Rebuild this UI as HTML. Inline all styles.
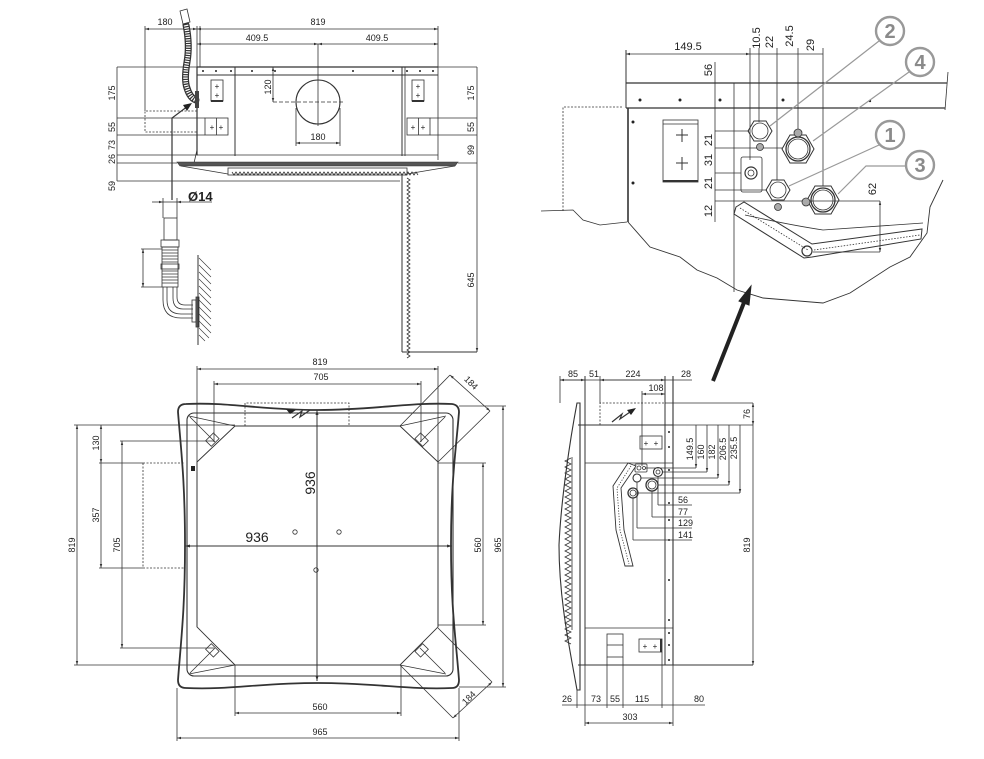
<!DOCTYPE html>
<html><head><meta charset="utf-8"><style>
html,body{margin:0;padding:0;background:#fff;}
svg{display:block;}
text{font-family:"Liberation Sans",sans-serif;fill:#222;}
.s{font-size:9px;}
.m{font-size:11px;}
</style></head><body>
<svg width="984" height="759" viewBox="0 0 984 759" xmlns="http://www.w3.org/2000/svg">
<defs>
<marker id="a" viewBox="0 0 10 10" refX="10" refY="5" markerWidth="5" markerHeight="5" orient="auto-start-reverse"><path d="M0,2 L10,5 L0,8z" fill="#333"/></marker>
</defs>
<g stroke="#333" stroke-width="0.8" fill="none">

<!-- ============ TOP-LEFT FRONT VIEW ============ -->
<line x1="145" y1="29" x2="197" y2="29" marker-start="url(#a)" marker-end="url(#a)"/>
<line x1="197" y1="29" x2="438" y2="29" marker-start="url(#a)" marker-end="url(#a)"/>
<line x1="197" y1="44" x2="318" y2="44" marker-start="url(#a)" marker-end="url(#a)"/>
<line x1="318" y1="44" x2="438" y2="44" marker-start="url(#a)" marker-end="url(#a)"/>
<line x1="145" y1="26" x2="145" y2="111"/>
<line x1="197" y1="26" x2="197" y2="150"/>
<line x1="200" y1="26" x2="200" y2="67"/>
<line x1="438" y1="26" x2="438" y2="67"/>
<line x1="318" y1="44" x2="318" y2="126"/>
<line x1="117" y1="67" x2="477" y2="67"/>
<line x1="117" y1="118" x2="205" y2="118"/>
<line x1="430" y1="118" x2="477" y2="118"/>
<line x1="117" y1="135" x2="205" y2="135"/>
<line x1="430" y1="135" x2="477" y2="135"/>
<line x1="117" y1="155" x2="198" y2="155"/>
<line x1="117" y1="163" x2="177" y2="163"/>
<line x1="458" y1="163" x2="477" y2="163"/>
<line x1="117" y1="181" x2="400" y2="181"/>
<line x1="117" y1="67" x2="117" y2="181"/>
<line x1="477" y1="67" x2="477" y2="352" marker-end="url(#a)"/>
<line x1="197" y1="67" x2="438" y2="67" stroke-width="1.2"/>
<line x1="197" y1="75" x2="438" y2="75" stroke-width="1"/>
<line x1="197" y1="67" x2="197" y2="155" stroke-width="1.2"/>
<line x1="438" y1="67" x2="438" y2="160"/>
<line x1="235" y1="67" x2="235" y2="156" stroke-width="1"/>
<line x1="402" y1="67" x2="402" y2="156" stroke-width="1"/>
<line x1="405" y1="67" x2="405" y2="156"/>
<line x1="197" y1="155" x2="438" y2="155"/>
<line x1="194" y1="163" x2="197" y2="150"/>
<g fill="#222" stroke="none">
<circle cx="203" cy="71" r="1"/><circle cx="216" cy="71" r="1"/><circle cx="231" cy="71" r="1"/><circle cx="252" cy="71" r="1"/><circle cx="275" cy="71" r="1"/><circle cx="353" cy="71" r="1"/><circle cx="393" cy="71" r="1"/><circle cx="407" cy="71" r="1"/><circle cx="420" cy="71" r="1"/><circle cx="433" cy="71" r="1"/>
</g>
<path d="M177,162 L458,162 L455,166 L180,166 Z" fill="#555" stroke-width="0.6"/>
<path d="M181,166 Q205,170 228,174"/>
<path d="M407,174 Q430,170 455,166"/>
<rect x="228" y="168" width="179" height="7"/>
<path d="M232,172 l2,3 l2,-3 l2,3 l2,-3 l2,3 l2,-3 l2,3 l2,-3 l2,3 l2,-3 l2,3 l2,-3 l2,3 l2,-3 l2,3 l2,-3 l2,3 l2,-3 l2,3 l2,-3 l2,3 l2,-3 l2,3 l2,-3 l2,3 l2,-3 l2,3 l2,-3 l2,3 l2,-3 l2,3 l2,-3 l2,3 l2,-3 l2,3 l2,-3 l2,3 l2,-3 l2,3 l2,-3 l2,3 l2,-3 l2,3 l2,-3 l2,3 l2,-3 l2,3 l2,-3 l2,3 l2,-3 l2,3 l2,-3 l2,3 l2,-3 l2,3 l2,-3 l2,3 l2,-3 l2,3 l2,-3 l2,3 l2,-3 l2,3 l2,-3 l2,3 l2,-3 l2,3 l2,-3 l2,3 l2,-3 l2,3 l2,-3 l2,3 l2,-3 l2,3 l2,-3 l2,3 l2,-3 l2,3 l2,-3 l2,3 l2,-3 l2,3 l2,-3 l2,3 l2,-3 l2,3 l2,-3 l2,3 l2,-3 l2,3 l2,-3 l2,3"/>
<line x1="402" y1="175" x2="402" y2="352" stroke-width="1"/>
<path d="M407,178 l3,2 l-3,2 l3,2 l-3,2 l3,2 l-3,2 l3,2 l-3,2 l3,2 l-3,2 l3,2 l-3,2 l3,2 l-3,2 l3,2 l-3,2 l3,2 l-3,2 l3,2 l-3,2 l3,2 l-3,2 l3,2 l-3,2 l3,2 l-3,2 l3,2 l-3,2 l3,2 l-3,2 l3,2 l-3,2 l3,2 l-3,2 l3,2 l-3,2 l3,2 l-3,2 l3,2 l-3,2 l3,2 l-3,2 l3,2 l-3,2 l3,2 l-3,2 l3,2 l-3,2 l3,2 l-3,2 l3,2 l-3,2 l3,2 l-3,2 l3,2 l-3,2 l3,2 l-3,2 l3,2 l-3,2 l3,2 l-3,2 l3,2 l-3,2 l3,2 l-3,2 l3,2 l-3,2 l3,2 l-3,2 l3,2 l-3,2 l3,2 l-3,2 l3,2 l-3,2 l3,2 l-3,2 l3,2 l-3,2 l3,2 l-3,2 l3,2 l-3,2 l3,2 l-3,2 l3,2 l-3,2 l3,2 l-3,2"/>
<line x1="402" y1="352" x2="477" y2="352" stroke-width="1"/>
<circle cx="318" cy="102" r="22" stroke-width="1.1"/>
<line x1="273" y1="102" x2="345" y2="102" stroke-dasharray="4 2"/>
<line x1="273" y1="67" x2="273" y2="102" marker-start="url(#a)" marker-end="url(#a)"/>
<line x1="296" y1="108" x2="296" y2="146"/>
<line x1="340" y1="108" x2="340" y2="146"/>
<line x1="296" y1="143" x2="340" y2="143" marker-start="url(#a)" marker-end="url(#a)"/>
<rect x="211" y="80" width="12" height="21"/>
<line x1="211" y1="101" x2="223" y2="101" stroke-width="2"/>
<rect x="205" y="118" width="23" height="17"/>
<line x1="216.5" y1="118" x2="216.5" y2="135"/>
<rect x="412" y="80" width="12" height="21"/>
<line x1="412" y1="101" x2="424" y2="101" stroke-width="2"/>
<rect x="407" y="118" width="23" height="17"/>
<line x1="418.5" y1="118" x2="418.5" y2="135"/>
<path d="M197,111 L145,111 L145,132 L197,132" stroke-dasharray="2 1.5"/>
<path d="M186,25 Q190,45 187,62 Q184,80 187,88 Q190,98 196,100" stroke="#333" stroke-width="7" stroke-linecap="round"/>
<path d="M186,25 Q190,45 187,62 Q184,80 187,88 Q190,98 196,100" stroke="#fff" stroke-width="4.5" stroke-dasharray="1.2 1.2"/>
<path d="M180,11 L187,9 L190,22 L183,24 Z" fill="#fff"/>
<rect x="195" y="91" width="4" height="17" fill="#444" stroke="none"/>
<polyline points="172,200 172,118 188,106" stroke-width="1.2"/>
<path d="M192,103 L183,105 L187,111 Z" fill="#222" stroke="none"/>
<line x1="152" y1="202" x2="163" y2="202" marker-end="url(#a)"/>
<line x1="163" y1="202" x2="177" y2="202"/>
<line x1="212" y1="202" x2="177" y2="202" marker-end="url(#a)"/>
<line x1="163" y1="198" x2="163" y2="218"/>
<line x1="177" y1="198" x2="177" y2="218"/>
<rect x="164" y="218" width="13" height="22"/>
<rect x="161" y="240" width="18" height="7"/>
<rect x="162" y="247" width="16" height="40"/>
<path d="M162,250 h16 M162,253 h16 M162,256 h16 M162,259 h16 M162,262 h16 M162,271 h16 M162,274 h16 M162,277 h16 M162,280 h16 M162,283 h16"/>
<rect x="161" y="264" width="18" height="5"/>
<path d="M163,287 L163,300 Q163,318 181,318 L193,318"/>
<path d="M177,287 L177,297 Q177,305 185,305 L193,305"/>
<path d="M167,287 L167,300 Q167,314 181,314 L193,314"/>
<path d="M173,287 L173,298 Q173,309 183,309 L193,309"/>
<rect x="192" y="300" width="4" height="22"/>
<rect x="196" y="297" width="3" height="30" fill="#666"/>
<line x1="198" y1="255" x2="198" y2="345" stroke-width="1"/>
<path d="M199,258 l12,12 M199,265 l12,12 M199,272 l12,12 M199,279 l12,12 M199,286 l12,12 M199,293 l12,12 M199,300 l12,12 M199,307 l12,12 M199,314 l12,12 M199,321 l12,12 M199,328 l10,10 M199,335 l6,6" stroke-width="0.6"/>
<line x1="143" y1="249" x2="143" y2="287" marker-start="url(#a)" marker-end="url(#a)"/>
<line x1="141" y1="249" x2="162" y2="249"/>
<line x1="141" y1="287" x2="162" y2="287"/>

<!-- ============ TOP-RIGHT DETAIL ============ -->
<line x1="626" y1="54" x2="750" y2="54" marker-start="url(#a)" marker-end="url(#a)"/>
<line x1="750" y1="54" x2="823" y2="54"/>
<line x1="626" y1="50" x2="626" y2="108" stroke-width="1"/>
<line x1="750" y1="48" x2="750" y2="160"/>
<line x1="759" y1="48" x2="759" y2="122"/>
<line x1="777" y1="48" x2="777" y2="180"/>
<line x1="798" y1="48" x2="798" y2="130"/>
<line x1="823" y1="48" x2="823" y2="186"/>
<line x1="626" y1="83" x2="947" y2="83" stroke-width="1.2"/>
<line x1="626" y1="108" x2="945" y2="108" stroke-width="1.2"/>
<line x1="948" y1="72" x2="945" y2="110"/>
<line x1="628" y1="108" x2="628" y2="222" stroke-width="1.6"/>
<line x1="715" y1="62" x2="715" y2="222"/>
<line x1="734" y1="83" x2="734" y2="292"/>
<line x1="715" y1="131" x2="749" y2="131"/>
<line x1="715" y1="148" x2="783" y2="148"/>
<line x1="715" y1="173" x2="741" y2="173"/>
<line x1="715" y1="190" x2="767" y2="190"/>
<line x1="715" y1="201" x2="880" y2="201"/>
<g fill="#222" stroke="none">
<circle cx="640" cy="100" r="1.5"/><circle cx="680" cy="100" r="1.5"/><circle cx="720" cy="100" r="1.5"/><circle cx="783" cy="100" r="1.5"/><circle cx="870" cy="101" r="1.2"/>
<circle cx="633" cy="122" r="1.5"/><circle cx="633" cy="183" r="1.5"/>
</g>
<rect x="663" y="120" width="35" height="62"/>
<line x1="663" y1="124" x2="698" y2="124"/>
<line x1="663" y1="181" x2="698" y2="181" stroke-width="2"/>
<path d="M682,129 v13 M676,135 h12 M682,157 v13 M676,163 h12" stroke-width="1"/>
<rect x="741" y="157" width="21" height="35" rx="2"/>
<circle cx="751" cy="173" r="6" stroke-width="1.2"/>
<circle cx="751" cy="173" r="3"/>
<polygon points="748,131 754,121 766,121 772,131 766,141 754,141" stroke-width="1"/>
<circle cx="760" cy="131" r="8"/>
<circle cx="760" cy="147" r="3.5" fill="#aaa"/>
<polygon points="782,149 790,135 806,135 814,149 806,163 790,163" stroke-width="1"/>
<circle cx="798" cy="149" r="12" stroke-width="1.3"/>
<circle cx="798" cy="149" r="10"/>
<circle cx="798" cy="133" r="4" fill="#aaa"/>
<polygon points="766,190 772,180 784,180 790,190 784,200 772,200" stroke-width="1"/>
<circle cx="778" cy="190" r="8"/>
<circle cx="778" cy="207" r="3.5" fill="#aaa"/>
<polygon points="807,200 815,186 831,186 839,200 831,214 815,214" stroke-width="1"/>
<circle cx="823" cy="200" r="12" stroke-width="1.3"/>
<circle cx="823" cy="200" r="10"/>
<circle cx="806" cy="202" r="4" fill="#aaa"/>
<polygon points="736,207 744,202 812,244 922,229 921,239 812,257 804,258 734,214" fill="#fff" stroke-width="1"/>
<path d="M740,208 L808,250 M814,250 L920,235" stroke-dasharray="1.5 1.5"/>
<circle cx="807" cy="251" r="5" stroke-width="1.2"/>
<path d="M745,215 Q790,225 823,230 L923,223"/>
<line x1="880" y1="201" x2="880" y2="252" marker-start="url(#a)" marker-end="url(#a)"/>
<line x1="813" y1="252" x2="880" y2="252"/>
<polyline points="541,211 573,210 583,220 600,225 627,222"/>
<polyline points="628,222 650,247 680,257 697,270 717,278 737,290 763,298 823,303 850,293 890,267 910,257 927,233 930,207 943,180" stroke-width="0.9"/>
<path d="M622,107 L563,107 L563,212" stroke-dasharray="2 1.5"/>
<g stroke="#999" stroke-width="1.2">
<line x1="879" y1="41" x2="770" y2="126"/>
<line x1="909" y1="72" x2="813" y2="141"/>
<line x1="879" y1="145" x2="789" y2="186"/>
<polyline points="906,166 866,166 838,194"/>
</g>
<g stroke="#999" stroke-width="2.4" fill="#fff">
<circle cx="890" cy="31" r="14"/>
<circle cx="920" cy="62" r="14"/>
<circle cx="890" cy="135" r="14"/>
<circle cx="920" cy="165" r="14"/>
</g>
<line x1="713" y1="381" x2="745" y2="300" stroke="#222" stroke-width="4"/>
<polygon points="751,286 749,305 739,301" fill="#222" stroke="#222" stroke-width="1"/>

<!-- ============ BOTTOM-LEFT PLAN ============ -->
<line x1="197" y1="369" x2="438" y2="369" marker-start="url(#a)" marker-end="url(#a)"/>
<line x1="214" y1="384" x2="421" y2="384" marker-start="url(#a)" marker-end="url(#a)"/>
<line x1="197" y1="366" x2="197" y2="627"/>
<line x1="438" y1="366" x2="438" y2="627"/>
<line x1="214" y1="381" x2="214" y2="442"/>
<line x1="421" y1="381" x2="421" y2="442"/>
<path d="M186,404 C230,402 260,410 318,410 C375,410 410,402 452,404 Q459,405 459,412 C456,450 451,480 451,545 C451,610 456,640 459,680 Q459,688 452,688 C410,690 375,683 318,683 C260,683 230,690 186,688 Q178,688 178,680 C181,640 185,610 185,545 C185,480 181,450 178,412 Q178,404 186,404 Z" stroke-width="1.8"/>
<rect x="187" y="413" width="266" height="263" rx="7" stroke-width="1.1"/>
<polygon points="197,462 235,426 400,426 438,462 438,627 400,665 235,665 197,627" stroke-width="0.9"/>
<polyline points="189,416 235,426"/><polyline points="446,416 400,426"/>
<polyline points="189,674 235,665"/><polyline points="446,674 400,665"/>
<line x1="190" y1="417" x2="215" y2="442"/>
<line x1="445" y1="417" x2="420" y2="442"/>
<line x1="190" y1="673" x2="215" y2="648"/>
<line x1="445" y1="673" x2="420" y2="648"/>
<rect x="207" y="436" width="11" height="8" transform="rotate(-45 212 440)"/>
<rect x="416" y="436" width="11" height="8" transform="rotate(45 422 440)"/>
<rect x="207" y="646" width="11" height="8" transform="rotate(45 212 650)"/>
<rect x="416" y="646" width="11" height="8" transform="rotate(-45 422 650)"/>
<rect x="191" y="466" width="4" height="5" fill="#222" stroke="none"/>
<path d="M245,426 L245,403 L349,403 L349,426" stroke-dasharray="2 1.5"/>
<polyline points="292,418 302,411 300,417 310,410" stroke-width="1.2"/>
<path d="M286,409 L296,410 L290,414 Z" fill="#222" stroke="none"/>
<line x1="317" y1="410" x2="317" y2="681" marker-start="url(#a)" marker-end="url(#a)" stroke-width="1"/>
<line x1="185" y1="546" x2="452" y2="546" marker-start="url(#a)" marker-end="url(#a)" stroke-width="1"/>
<circle cx="295" cy="532" r="2.2"/><circle cx="339" cy="532" r="2.2"/><circle cx="316" cy="570" r="2.2"/>
<line x1="77" y1="425" x2="77" y2="665" marker-start="url(#a)" marker-end="url(#a)"/>
<line x1="74" y1="425" x2="235" y2="425"/>
<line x1="74" y1="665" x2="235" y2="665"/>
<line x1="101" y1="425" x2="101" y2="463" marker-start="url(#a)" marker-end="url(#a)"/>
<line x1="101" y1="463" x2="101" y2="568" marker-end="url(#a)"/>
<line x1="99" y1="463" x2="143" y2="463"/>
<line x1="99" y1="568" x2="143" y2="568"/>
<path d="M143,463 L185,463 M143,463 L143,568 L185,568" stroke-dasharray="2 1.5"/>
<line x1="122" y1="441" x2="122" y2="648" marker-start="url(#a)" marker-end="url(#a)"/>
<line x1="120" y1="441" x2="214" y2="441"/>
<line x1="120" y1="648" x2="214" y2="648"/>
<line x1="483" y1="463" x2="483" y2="625" marker-start="url(#a)" marker-end="url(#a)"/>
<line x1="438" y1="463" x2="486" y2="463"/>
<line x1="438" y1="625" x2="486" y2="625"/>
<line x1="503" y1="406" x2="503" y2="687" marker-start="url(#a)" marker-end="url(#a)"/>
<line x1="459" y1="406" x2="506" y2="406"/>
<line x1="459" y1="687" x2="506" y2="687"/>
<line x1="235" y1="713" x2="401" y2="713" marker-start="url(#a)" marker-end="url(#a)"/>
<line x1="235" y1="665" x2="235" y2="716"/>
<line x1="401" y1="665" x2="401" y2="716"/>
<line x1="177" y1="738" x2="459" y2="738" marker-start="url(#a)" marker-end="url(#a)"/>
<line x1="177" y1="688" x2="177" y2="741"/>
<line x1="459" y1="688" x2="459" y2="741"/>
<line x1="400" y1="426" x2="450" y2="375"/>
<line x1="438" y1="462" x2="490" y2="411"/>
<line x1="450" y1="375" x2="490" y2="411" marker-start="url(#a)" marker-end="url(#a)"/>
<line x1="400" y1="665" x2="453" y2="718"/>
<line x1="438" y1="628" x2="492" y2="682"/>
<line x1="453" y1="718" x2="492" y2="682" marker-start="url(#a)" marker-end="url(#a)"/>

<!-- ============ BOTTOM-RIGHT SIDE VIEW ============ -->
<line x1="560" y1="380" x2="692" y2="380"/>
<line x1="560" y1="380" x2="585" y2="380" marker-start="url(#a)" marker-end="url(#a)"/>
<line x1="600" y1="380" x2="665" y2="380" marker-start="url(#a)" marker-end="url(#a)"/>
<line x1="560" y1="376" x2="560" y2="403"/>
<line x1="585" y1="376" x2="585" y2="665" stroke-width="1"/>
<line x1="600" y1="376" x2="600" y2="403"/>
<line x1="665" y1="376" x2="665" y2="665" stroke-width="1"/>
<line x1="673" y1="376" x2="673" y2="665" stroke-width="1.1"/>
<line x1="642" y1="394" x2="665" y2="394" marker-start="url(#a)" marker-end="url(#a)"/>
<line x1="642" y1="391" x2="642" y2="466"/>
<path d="M600,425 L600,403 L665,403 L665,425" stroke-dasharray="2 1.5"/>
<polyline points="612,422 622,414 620,419 630,412" stroke-width="1.2"/>
<path d="M636,408 L627,410 L631,415 Z" fill="#222" stroke="none"/>
<line x1="665" y1="403" x2="753" y2="403"/>
<line x1="673" y1="425" x2="753" y2="425"/>
<line x1="753" y1="403" x2="753" y2="425" marker-start="url(#a)" marker-end="url(#a)"/>
<line x1="753" y1="425" x2="753" y2="665" marker-end="url(#a)"/>
<line x1="578" y1="425" x2="673" y2="425" stroke-width="1.1"/>
<line x1="585" y1="463" x2="673" y2="463"/>
<line x1="585" y1="628" x2="673" y2="628"/>
<line x1="578" y1="665" x2="753" y2="665" stroke-width="1"/>
<g fill="#222" stroke="none">
<circle cx="669" cy="432" r="1"/><circle cx="669" cy="447" r="1"/><circle cx="669" cy="470" r="1"/><circle cx="669" cy="503" r="1"/><circle cx="669" cy="520" r="1"/><circle cx="669" cy="540" r="1"/><circle cx="669" cy="580" r="1"/><circle cx="669" cy="620" r="1"/><circle cx="669" cy="633" r="1"/><circle cx="669" cy="645" r="1"/><circle cx="669" cy="660" r="1"/>
</g>
<path d="M577,403 C570,440 561,500 559,545 C559,600 570,650 577,690 L580,690 L580,403 Z" stroke-width="1.1"/>
<line x1="580" y1="425" x2="580" y2="665"/>
<line x1="572" y1="457" x2="572" y2="630"/>
<path d="M571,458 l-6,3 l6,3 l-6,3 l6,3 l-6,3 l6,3 l-6,3 l6,3 l-6,3 l6,3 l-6,3 l6,3 l-6,3 l6,3 l-6,3 l6,3 l-6,3 l6,3 l-6,3 l6,3 l-6,3 l6,3 l-6,3 l6,3 l-6,3 l6,3 l-6,3 l6,3 l-6,3 l6,3 l-6,3 l6,3 l-6,3 l6,3 l-6,3 l6,3 l-6,3 l6,3 l-6,3 l6,3 l-6,3 l6,3 l-6,3 l6,3 l-6,3 l6,3 l-6,3 l6,3 l-6,3 l6,3 l-6,3 l6,3 l-6,3 l6,3 l-6,3 l6,3 l-6,3 l6,3 l-6,3 l6,3 l-6,3 l6,3"/>
<rect x="640" y="436" width="22" height="13"/>
<line x1="696" y1="425" x2="696" y2="468" marker-end="url(#a)"/>
<line x1="707" y1="425" x2="707" y2="472" marker-end="url(#a)"/>
<line x1="718" y1="425" x2="718" y2="478" marker-end="url(#a)"/>
<line x1="729" y1="425" x2="729" y2="485" marker-end="url(#a)"/>
<line x1="740" y1="425" x2="740" y2="493" marker-end="url(#a)"/>
<line x1="645" y1="468" x2="696" y2="468"/>
<line x1="662" y1="472" x2="707" y2="472"/>
<line x1="641" y1="478" x2="718" y2="478"/>
<line x1="658" y1="485" x2="729" y2="485"/>
<line x1="638" y1="493" x2="740" y2="493"/>
<rect x="635" y="464" width="12" height="8" rx="1"/>
<circle cx="639" cy="468" r="2"/><circle cx="644" cy="468" r="1.5"/>
<circle cx="658" cy="472" r="4.5" stroke-width="1.1"/><circle cx="658" cy="472" r="2"/>
<circle cx="637" cy="478" r="4" stroke-width="1.1"/>
<circle cx="652" cy="485" r="6" stroke-width="1.3"/><circle cx="652" cy="485" r="4"/>
<circle cx="633" cy="493" r="5" stroke-width="1.3"/><circle cx="633" cy="493" r="3"/>
<line x1="658" y1="476" x2="658" y2="505"/>
<line x1="652" y1="491" x2="652" y2="517"/>
<line x1="637" y1="482" x2="637" y2="528"/>
<line x1="633" y1="498" x2="633" y2="540"/>
<line x1="658" y1="505" x2="692" y2="505"/>
<line x1="652" y1="517" x2="692" y2="517"/>
<line x1="637" y1="528" x2="692" y2="528"/>
<line x1="633" y1="540" x2="692" y2="540"/>
<path d="M628,463 L613,486 L616,530 L625,566 L633,566 L624,530 L621,488 L636,466 Z" fill="#fff" stroke-width="0.9"/>
<path d="M631,466 L617,488 L620,530 L629,564" stroke-dasharray="1.2 1.5"/>
<rect x="607" y="634" width="16" height="23"/>
<line x1="607" y1="645" x2="623" y2="645"/>
<rect x="639" y="639" width="23" height="13"/>
<line x1="661" y1="639" x2="661" y2="652" stroke-width="2"/>
<line x1="562" y1="705" x2="705" y2="705"/>
<line x1="577" y1="690" x2="577" y2="708"/>
<line x1="585" y1="665" x2="585" y2="726"/>
<line x1="607" y1="657" x2="607" y2="708"/>
<line x1="623" y1="657" x2="623" y2="708"/>
<line x1="662" y1="652" x2="662" y2="708"/>
<line x1="673" y1="665" x2="673" y2="726"/>
<line x1="585" y1="723" x2="673" y2="723" marker-start="url(#a)" marker-end="url(#a)"/>
</g>

<!-- ============ TEXT ============ -->
<g class="s">
<text x="165" y="25" text-anchor="middle">180</text>
<text x="318" y="25" text-anchor="middle">819</text>
<text x="257" y="41" text-anchor="middle">409.5</text>
<text x="377" y="41" text-anchor="middle">409.5</text>
<text x="318" y="140" text-anchor="middle">180</text>
<text transform="translate(271,87) rotate(-90)" text-anchor="middle">120</text>
<text transform="translate(115,93) rotate(-90)" text-anchor="middle">175</text>
<text transform="translate(115,127) rotate(-90)" text-anchor="middle">55</text>
<text transform="translate(115,145) rotate(-90)" text-anchor="middle">73</text>
<text transform="translate(115,159) rotate(-90)" text-anchor="middle">26</text>
<text transform="translate(115,186) rotate(-90)" text-anchor="middle">59</text>
<text transform="translate(474,93) rotate(-90)" text-anchor="middle">175</text>
<text transform="translate(474,127) rotate(-90)" text-anchor="middle">55</text>
<text transform="translate(474,150) rotate(-90)" text-anchor="middle">99</text>
<text transform="translate(474,280) rotate(-90)" text-anchor="middle">645</text>
<text x="320" y="365" text-anchor="middle">819</text>
<text x="321" y="380" text-anchor="middle">705</text>
<text transform="translate(75,545) rotate(-90)" text-anchor="middle">819</text>
<text transform="translate(99,443) rotate(-90)" text-anchor="middle">130</text>
<text transform="translate(99,515) rotate(-90)" text-anchor="middle">357</text>
<text transform="translate(120,545) rotate(-90)" text-anchor="middle">705</text>
<text transform="translate(481,545) rotate(-90)" text-anchor="middle">560</text>
<text transform="translate(501,545) rotate(-90)" text-anchor="middle">965</text>
<text x="320" y="710" text-anchor="middle">560</text>
<text x="320" y="735" text-anchor="middle">965</text>
<text transform="translate(469,385) rotate(45)" text-anchor="middle">184</text>
<text transform="translate(471,700) rotate(-45)" text-anchor="middle">184</text>
<text x="573" y="377" text-anchor="middle">85</text>
<text x="594" y="377" text-anchor="middle">51</text>
<text x="633" y="377" text-anchor="middle">224</text>
<text x="686" y="377" text-anchor="middle">28</text>
<text x="656" y="391" text-anchor="middle">108</text>
<text transform="translate(750,414) rotate(-90)" text-anchor="middle">76</text>
<text transform="translate(750,545) rotate(-90)" text-anchor="middle">819</text>
<text transform="translate(693,449) rotate(-90)" text-anchor="middle">149.5</text>
<text transform="translate(704,452) rotate(-90)" text-anchor="middle">160</text>
<text transform="translate(715,452) rotate(-90)" text-anchor="middle">182</text>
<text transform="translate(726,449) rotate(-90)" text-anchor="middle">206.5</text>
<text transform="translate(737,448) rotate(-90)" text-anchor="middle">235.5</text>
<text x="678" y="503">56</text>
<text x="678" y="515">77</text>
<text x="678" y="526">129</text>
<text x="678" y="538">141</text>
<text x="567" y="702" text-anchor="middle">26</text>
<text x="596" y="702" text-anchor="middle">73</text>
<text x="615" y="702" text-anchor="middle">55</text>
<text x="642" y="702" text-anchor="middle">115</text>
<text x="699" y="702" text-anchor="middle">80</text>
<text x="630" y="720" text-anchor="middle">303</text>
</g>
<g font-size="8" text-anchor="middle">
<text x="217" y="89">+</text><text x="217" y="98">+</text>
<text x="418" y="89">+</text><text x="418" y="98">+</text>
<text x="212" y="130">+</text><text x="221" y="130">+</text>
<text x="413" y="130">+</text><text x="423" y="130">+</text>
<text x="646" y="446">+</text><text x="656" y="446">+</text>
<text x="645" y="649">+</text><text x="655" y="649">+</text>
</g>
<text x="188" y="201" font-size="13" font-weight="bold">Ø14</text>
<text x="257" y="542" font-size="14" text-anchor="middle">936</text>
<text transform="translate(315,483) rotate(-90)" font-size="14" text-anchor="middle">936</text>
<g class="m">
<text x="688" y="50" text-anchor="middle">149.5</text>
<text transform="translate(760,38) rotate(-90)" text-anchor="middle">10.5</text>
<text transform="translate(773,42) rotate(-90)" text-anchor="middle">22</text>
<text transform="translate(793,36) rotate(-90)" text-anchor="middle">24.5</text>
<text transform="translate(814,45) rotate(-90)" text-anchor="middle">29</text>
<text transform="translate(712,70) rotate(-90)" text-anchor="middle">56</text>
<text transform="translate(712,140) rotate(-90)" text-anchor="middle">21</text>
<text transform="translate(712,160) rotate(-90)" text-anchor="middle">31</text>
<text transform="translate(712,183) rotate(-90)" text-anchor="middle">21</text>
<text transform="translate(712,211) rotate(-90)" text-anchor="middle">12</text>
<text transform="translate(876,189) rotate(-90)" text-anchor="middle">62</text>
</g>
<g font-size="20" font-weight="bold" text-anchor="middle">
<text x="890" y="38" style="fill:#8a8a8a">2</text>
<text x="920" y="69" style="fill:#8a8a8a">4</text>
<text x="890" y="142" style="fill:#8a8a8a">1</text>
<text x="920" y="172" style="fill:#8a8a8a">3</text>
</g>
</svg>
</body></html>
